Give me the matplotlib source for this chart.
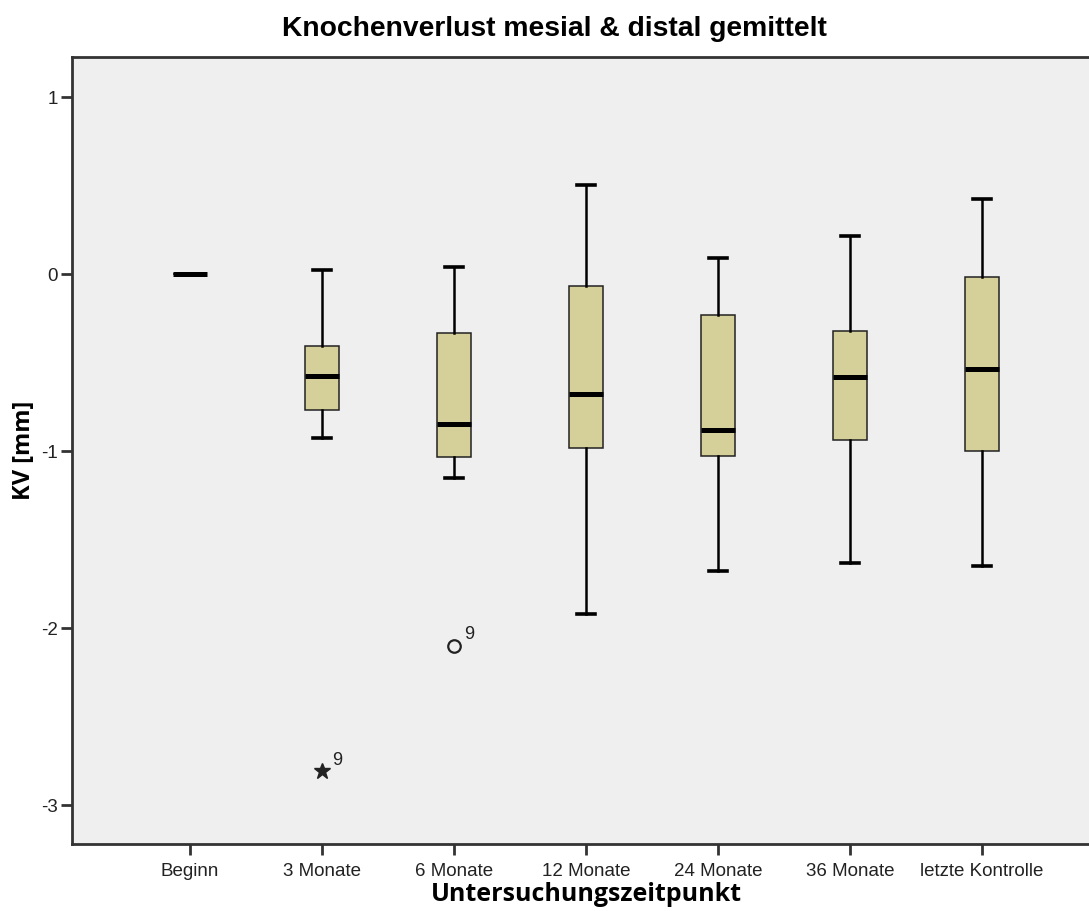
import matplotlib.pyplot as plt

zeitpunkte = ['Beginn', '3 Monate', '6 Monate', '12 Monate',
              '24 Monate', '36 Monate', 'letzte Kontrolle']
whisker_oben = [0.0, 0.023, 0.041, 0.503, 0.092, 0.215, 0.422]
q3 = [0.0, -0.407, -0.332, -0.068, -0.23, -0.32, -0.019]
median = [0.0, -0.578, -0.845, -0.68, -0.88, -0.58, -0.535]
q1 = [0.0, -0.768, -1.032, -0.98, -1.03, -0.94, -1.0]
whisker_unten = [0.0, -0.929, -1.151, -1.92, -1.68, -1.63, -1.65]

# Ausreisser: (Zeitpunkt-Index, Wert, Fallnummer, Art)
ausreisser_idx = [1, 2]
ausreisser_wert = [-2.81, -2.10]
ausreisser_fall = ['9', '9']
ausreisser_art = ['extrem', 'mild']

stats = []
for i in range(len(zeitpunkte)):
    stats.append({'med': median[i], 'q1': q1[i], 'q3': q3[i],
                  'whislo': whisker_unten[i], 'whishi': whisker_oben[i],
                  'fliers': []})

fig = plt.figure(figsize=(10.89, 9.11), dpi=100)
ax = fig.add_axes([0.0661, 0.0735, 0.9339, 0.8639])
ax.set_facecolor('#efefef')

ax.bxp(stats, positions=range(len(zeitpunkte)), widths=0.26,
       patch_artist=True, showfliers=False,
       boxprops=dict(facecolor='#d5cf99', edgecolor='#222222', linewidth=1.1),
       medianprops=dict(color='black', linewidth=3.6, solid_capstyle='butt'),
       whiskerprops=dict(color='black', linewidth=1.8),
       capprops=dict(color='black', linewidth=2.6))

for i, v, fall, art in zip(ausreisser_idx, ausreisser_wert, ausreisser_fall, ausreisser_art):
    if art == 'extrem':
        ax.plot(i, v, marker='*', color='#222222', markersize=12, linestyle='none')
    else:
        ax.plot(i, v, marker='o', markerfacecolor='none', markeredgecolor='#222222',
                markeredgewidth=1.6, markersize=9, linestyle='none')
    ax.annotate(fall, (i, v), xytext=(7, 5), textcoords='offset points',
                fontsize=13, family='Liberation Sans', color='#222222')

ax.set_xlim(-0.894, 6.81)
ax.set_ylim(-3.22, 1.226)
ax.set_xticks(range(len(zeitpunkte)))
ax.set_xticklabels(zeitpunkte, family='Liberation Sans', fontsize=13.5, color='#222222')
ax.set_yticks([1, 0, -1, -2, -3])
ax.set_yticklabels(['1', '0', '-1', '-2', '-3'], family='Liberation Sans',
                   fontsize=13.5, color='#222222')
ax.tick_params(axis='x', direction='out', length=8, width=2, color='#333333', pad=6)
ax.tick_params(axis='y', direction='out', length=8, width=2, color='#333333', pad=2)

for s in ['left', 'bottom', 'top']:
    ax.spines[s].set_linewidth(2)
    ax.spines[s].set_color('#333333')
ax.spines['right'].set_visible(False)

ax.set_title('Knochenverlust mesial & distal gemittelt', family='Liberation Sans',
             fontsize=20.3, fontweight='bold', pad=15, x=0.474)
ax.set_xlabel('Untersuchungszeitpunkt', family='Open Sans', fontsize=18,
              fontweight='bold', labelpad=4)
ax.xaxis.set_label_coords(0.506, -0.048)
ax.set_ylabel('KV [mm]', family='Open Sans', fontsize=17, fontweight='bold', labelpad=4)

fig.savefig('out.png', dpi=100)
